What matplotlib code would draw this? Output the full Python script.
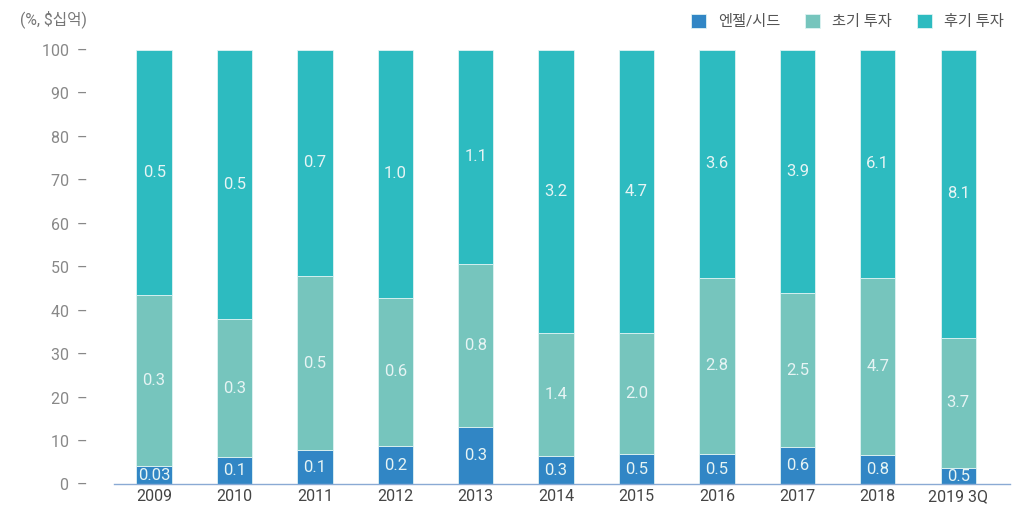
import numpy as np
import matplotlib.pyplot as plt

plt.rcParams['font.family'] = ['Roboto', 'Noto Sans CJK KR', 'DejaVu Sans']

# data
years = ['2009', '2010', '2011', '2012', '2013', '2014', '2015', '2016', '2017', '2018', '2019 3Q']
# share in percent (stack heights)
seed_pct = [4.3, 6.3, 7.9, 8.9, 13.2, 6.6, 7.0, 7.0, 8.6, 6.8, 3.8]
early_top_pct = [43.7, 38.1, 48.0, 43.0, 50.8, 34.9, 34.9, 47.6, 44.1, 47.6, 33.8]
# amount labels ($ billion)
seed_amt = ['0.03', '0.1', '0.1', '0.2', '0.3', '0.3', '0.5', '0.5', '0.6', '0.8', '0.5']
early_amt = ['0.3', '0.3', '0.5', '0.6', '0.8', '1.4', '2.0', '2.8', '2.5', '4.7', '3.7']
late_amt = ['0.5', '0.5', '0.7', '1.0', '1.1', '3.2', '4.7', '3.6', '3.9', '6.1', '8.1']

series_names = ['엔젤/시드', '초기 투자', '후기 투자']
colors = ['#3186c5', '#76c5bd', '#2dbbc0']

seed = np.array(seed_pct)
early = np.array(early_top_pct) - seed
late = 100 - np.array(early_top_pct)

fig = plt.figure(figsize=(10.13, 5.14), dpi=100)
ax = fig.add_axes([0.1125, 0.0574, 0.885, 0.8453])

x = np.arange(len(years))
w = 0.44
bottoms = np.zeros(len(years))
for vals, col, name in zip([seed, early, late], colors, series_names):
    ax.bar(x, vals, w, bottom=bottoms, color=col, label=name,
           edgecolor='#dff3f3', linewidth=0.6)
    bottoms = bottoms + vals

#value labels in the middle of each segment
for i in range(len(years)):
    segs = [(0, seed[i], seed_amt[i]),
            (seed[i], early[i], early_amt[i]),
            (seed[i] + early[i], late[i], late_amt[i])]
    for b, h, t in segs:
        ax.text(x[i], b + h / 2, t, ha='center', va='center',
                color='#e6f4f4', fontsize=12)

ax.set_xlim(-0.5, 10.65)
ax.set_ylim(0, 100)
ax.set_yticks(range(0, 101, 10))
ax.set_yticklabels([f'{v}  \u2013' for v in range(0, 101, 10)])
ax.set_xticks(x)
ax.set_xticklabels(years)
ax.tick_params(axis='y', length=0, pad=19, labelcolor='#888888', labelsize=11.5)
ax.tick_params(axis='x', length=0, pad=3, labelcolor='#444444', labelsize=11.5)

for s in ['top', 'right', 'left']:
    ax.spines[s].set_visible(False)
ax.spines['bottom'].set_color('#8aaad4')
ax.spines['bottom'].set_linewidth(1.0)

fig.text(0.02, 0.962, '(%, $십억)', color='#777777', fontsize=11.3, va='center')

fig.legend(loc='center right', bbox_to_anchor=(1.0, 0.958), ncol=3, frameon=False,
           handlelength=1.0, handleheight=1.0, handletextpad=0.8, columnspacing=1.6,
           fontsize=11, labelcolor='#555555', borderaxespad=0.2)

fig.savefig('out.png', dpi=100)
